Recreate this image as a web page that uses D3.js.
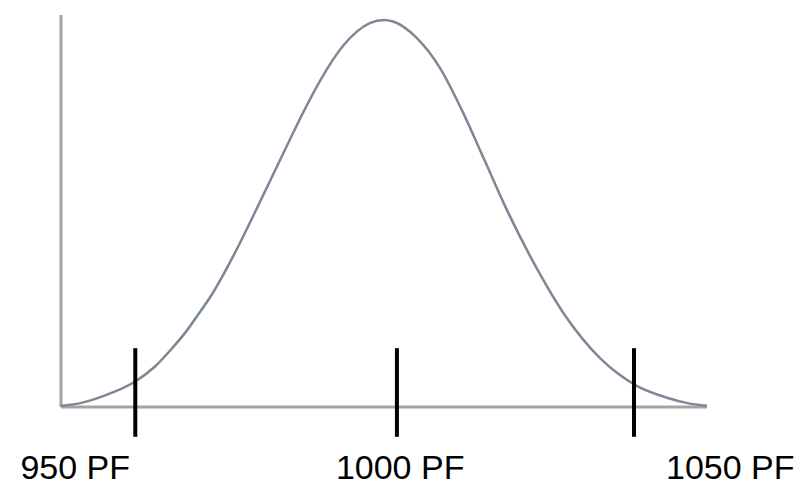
<!DOCTYPE html>
<html>
<head>
<meta charset="utf-8">
<script src="https://cdn.jsdelivr.net/npm/d3@7"></script>
<style>
  html, body { margin: 0; padding: 0; background: #ffffff; }
  svg { display: block; }
</style>
</head>
<body>
<svg id="chart" width="804" height="487"></svg>
<script>
// Curve positions along the horizontal axis (arbitrary units 0..100)
const curveX = [0, 3, 6.5, 11.8, 14.5, 17, 19.5, 21.2, 23.4, 26.6, 30.8, 35.4, 37.3, 40.1, 43.7, 47.8, 50, 51.4, 55.1, 58.7, 62.2, 65.5, 69.0, 73.1, 78.3, 83.4, 86, 89.2, 93.8, 97, 100];
// Relative density at each position (peak = 100)
const curveY = [0.3, 1.0, 2.8, 6.9, 10.4, 14.8, 19.8, 23.8, 29.2, 38.8, 53.0, 69.0, 75.5, 84.3, 93.4, 99.2, 100, 99.6, 95.3, 87.5, 76.2, 64.0, 51.0, 37.5, 23.0, 12.7, 8.9, 5.4, 2.4, 1.0, 0.3];
// Vertical marker positions and their labels
const markerX = [11.5, 52.0, 88.7];
const tickLabels = ["950 PF", "1000 PF", "1050 PF"];
const labelX = [2.2, 52.5, 103.6];
const markerTop = 15.2;
const markerBottom = -7.7;

const svg = d3.select("#chart");
const x = d3.scaleLinear().domain([0, 100]).range([61, 707]);
const y = d3.scaleLinear().domain([0, 100]).range([407, 20]);

// Axes (plain lines, no labels)
svg.append("line")
  .attr("x1", x(0)).attr("x2", x(0))
  .attr("y1", 15).attr("y2", y(0))
  .attr("stroke", "#a3a3a3").attr("stroke-width", 3);
svg.append("line")
  .attr("x1", x(0)).attr("x2", x(100))
  .attr("y1", y(0)).attr("y2", y(0))
  .attr("stroke", "#a3a3a3").attr("stroke-width", 3);

// Bell curve
const pts = curveX.map((d, i) => [d, curveY[i]]);
const line = d3.line()
  .x(d => x(d[0]))
  .y(d => y(d[1]))
  .curve(d3.curveMonotoneX);
svg.append("path")
  .datum(pts)
  .attr("d", line)
  .attr("fill", "none")
  .attr("stroke", "#7d8896")
  .attr("stroke-width", 2.5);

// Markers
svg.selectAll("line.marker")
  .data(markerX)
  .enter().append("line")
  .attr("class", "marker")
  .attr("x1", d => x(d)).attr("x2", d => x(d))
  .attr("y1", y(markerTop)).attr("y2", y(markerBottom))
  .attr("stroke", "#000").attr("stroke-width", 4);

// Labels
svg.selectAll("text.lbl")
  .data(tickLabels)
  .enter().append("text")
  .attr("class", "lbl")
  .attr("x", (d, i) => x(labelX[i]))
  .attr("y", 479)
  .attr("text-anchor", "middle")
  .attr("font-family", "Liberation Sans, Arial, sans-serif")
  .attr("font-size", 34)
  .attr("fill", "#000")
  .text(d => d);
</script>
</body>
</html>
